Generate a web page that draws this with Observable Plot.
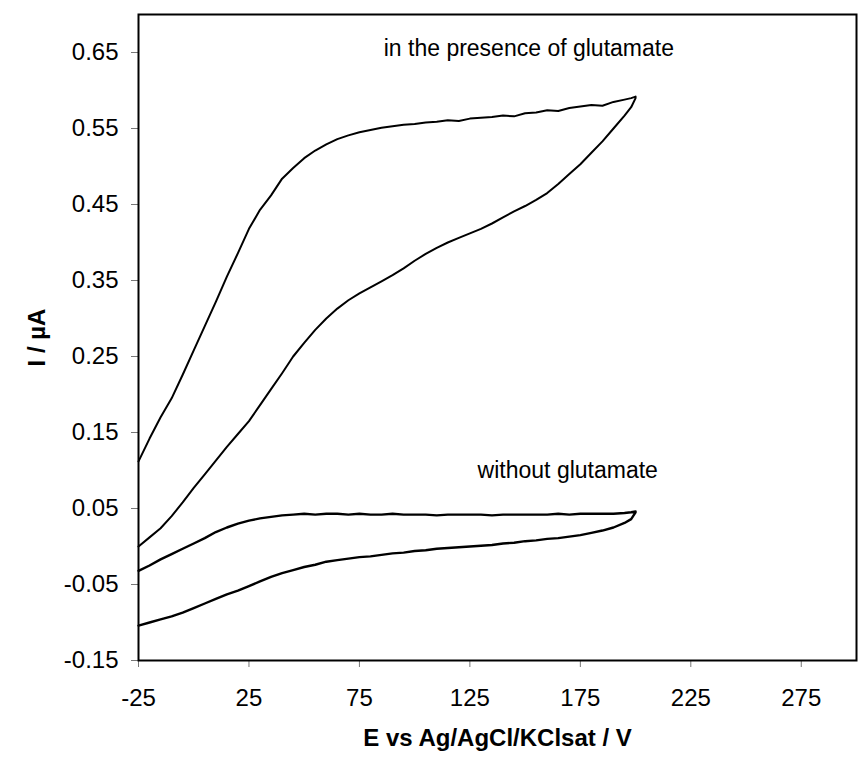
<!DOCTYPE html>
<html>
<head>
<meta charset="utf-8">
<script src="https://cdn.jsdelivr.net/npm/d3@7"></script>
<script src="https://cdn.jsdelivr.net/npm/@observablehq/plot@0.6"></script>
<style>
  body { margin: 0; background: #fff; }
  svg { display: block; }
</style>
</head>
<body>
<div id="chart"></div>
<script>
// Axis ticks
const xTicks = [-25, 25, 75, 125, 175, 225, 275];
const yTicks = [-0.15, -0.05, 0.05, 0.15, 0.25, 0.35, 0.45, 0.55, 0.65];

// Applied potential (mV) sampled along each scan branch, ascending
const scanE = [-25, -20, -15, -10, -5, 0, 5, 10, 15, 20, 25, 30, 35, 40, 45, 50, 55, 60, 65, 70,
  75, 80, 85, 90, 95, 100, 105, 110, 115, 120, 125, 130, 135, 140, 145, 150, 155, 160, 165, 170,
  175, 180, 185, 190, 195, 198, 200];

// Current (µA) with glutamate: forward (anodic) branch and return branch
const gluForward = [0.000, 0.012, 0.024, 0.040, 0.058, 0.077, 0.095, 0.113, 0.131, 0.148,
  0.165, 0.186, 0.207, 0.228, 0.250, 0.268, 0.285, 0.300, 0.313, 0.324,
  0.333, 0.341, 0.349, 0.357, 0.366, 0.376, 0.385, 0.393, 0.400, 0.406,
  0.412, 0.418, 0.425, 0.433, 0.441, 0.448, 0.456, 0.465, 0.477, 0.490,
  0.503, 0.518, 0.533, 0.550, 0.567, 0.578, 0.590];
const gluReturn = [0.112, 0.142, 0.170, 0.195, 0.226, 0.258, 0.290, 0.322, 0.355, 0.386,
  0.418, 0.443, 0.462, 0.484, 0.498, 0.511, 0.521, 0.529, 0.536, 0.541,
  0.545, 0.548, 0.551, 0.553, 0.555, 0.556, 0.558, 0.559, 0.561, 0.560,
  0.563, 0.564, 0.565, 0.567, 0.566, 0.570, 0.571, 0.574, 0.573, 0.577,
  0.579, 0.581, 0.580, 0.585, 0.588, 0.590, 0.592];

// Current (µA) without glutamate
const blankForward = [-0.104, -0.100, -0.096, -0.092, -0.087, -0.081, -0.075, -0.069, -0.063, -0.058,
  -0.052, -0.046, -0.040, -0.035, -0.031, -0.027, -0.024, -0.020, -0.018, -0.016,
  -0.014, -0.013, -0.011, -0.009, -0.008, -0.006, -0.005, -0.003, -0.002, -0.001,
  0.000, 0.001, 0.002, 0.004, 0.005, 0.007, 0.008, 0.010, 0.011, 0.013,
  0.015, 0.018, 0.021, 0.025, 0.031, 0.036, 0.045];
const blankReturn = [-0.032, -0.025, -0.017, -0.010, -0.003, 0.004, 0.011, 0.019, 0.025, 0.030,
  0.034, 0.037, 0.039, 0.041, 0.042, 0.043, 0.042, 0.043, 0.043, 0.042,
  0.043, 0.042, 0.042, 0.043, 0.042, 0.042, 0.042, 0.041, 0.042, 0.042,
  0.042, 0.042, 0.041, 0.042, 0.042, 0.042, 0.042, 0.042, 0.043, 0.042,
  0.043, 0.043, 0.043, 0.043, 0.044, 0.045, 0.046];

// One closed voltammogram: forward sweep up to the vertex, then back down
function cycle(series, forward, back) {
  const up = scanE.map((E, i) => ({series, E, I: forward[i]}));
  const down = scanE.map((E, i) => ({series, E, I: back[i]})).reverse();
  return up.concat(down);
}
const withGlu = cycle("glutamate", gluForward, gluReturn);
const withoutGlu = cycle("blank", blankForward, blankReturn);

const font = '"Liberation Sans", Arial, Helvetica, sans-serif';

const chart = Plot.plot({
  width: 860,
  height: 759,
  marginLeft: 138,
  marginRight: 4,
  marginTop: 14,
  marginBottom: 99,
  style: {fontFamily: font, fontSize: "24px", color: "#000", background: "#fff", overflow: "visible"},
  x: {domain: [-25, 300]},
  y: {domain: [-0.15, 0.70]},
  marks: [
    Plot.axisX({ticks: xTicks, tickSize: 7, tickPadding: 21, stroke: "#777", fill: "#000",
      tickFormat: d => String(d), label: null, fontSize: 24}),
    Plot.axisY({ticks: yTicks, tickSize: 7, tickPadding: 13, stroke: "#777", fill: "#000",
      tickFormat: d => d.toFixed(2), label: null, fontSize: 24}),
    Plot.line(withGlu, {x: "E", y: "I", stroke: "#000", strokeWidth: 2, strokeLinejoin: "round"}),
    Plot.line(withoutGlu, {x: "E", y: "I", stroke: "#000", strokeWidth: 2.4, strokeLinejoin: "round"}),
    Plot.frame({stroke: "#000", strokeWidth: 2}),
    Plot.text(["in the presence of glutamate"], {x: 86, y: 0.645, textAnchor: "start", lineAnchor: "bottom", fontSize: 23}),
    Plot.text(["without glutamate"], {x: 128.5, y: 0.0895, textAnchor: "start", lineAnchor: "bottom", fontSize: 23}),
    Plot.text(["E vs Ag/AgCl/KClsat / V"], {frameAnchor: "bottom", textAnchor: "middle", lineAnchor: "bottom",
      dy: 85, fontWeight: "bold", fontSize: 24}),
    Plot.text(["I / µA"], {frameAnchor: "left", rotate: -90, dx: -101, textAnchor: "middle", lineAnchor: "middle",
      fontWeight: "bold", fontSize: 24})
  ]
});

document.getElementById("chart").appendChild(chart);
</script>
</body>
</html>
